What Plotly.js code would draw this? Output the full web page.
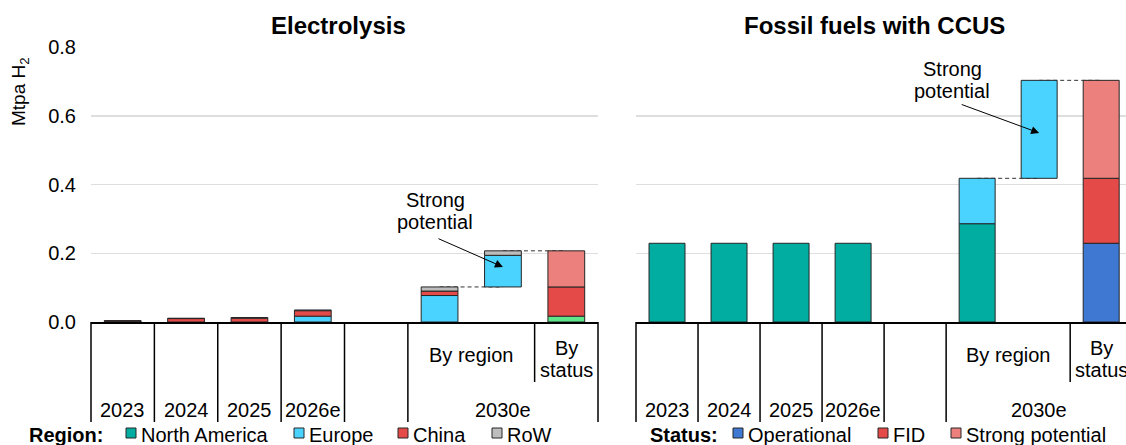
<!DOCTYPE html>
<html><head><meta charset="utf-8">
<script src="https://cdn.plot.ly/plotly-3.0.1.min.js"></script>
<style>html,body{margin:0;padding:0;background:#fff}#chart{width:1126px;height:445px}</style>
</head><body><div id="chart"></div>
<script>
// ---------------- DATA (Mtpa H2) ----------------
const slots = ['2023','2024','2025','2026e','gap','2030e by region','2030e strong potential','2030e by status'];
const yearLabels = ['2023','2024','2025','2026e','','2030e'];
const regionNames = ['North America','Europe','China','RoW'];
const statusNames = ['Operational','FID','Strong potential'];
const potentialRegions = ['Europe','RoW'];

// Electrolysis, slots 2023..2030e by region
const elecNorthAmerica = [0, 0, 0, 0, 0, 0];
const elecEurope       = [0, 0, 0, 0.017, 0, 0.077];
const elecChina        = [0.003, 0.010, 0.011, 0.016, 0, 0.013];
const elecRoW          = [0.001, 0.001, 0.002, 0.002, 0, 0.012];
const elecPotential    = [0.092, 0.013];        // Europe, RoW
const elecStatus       = [0.017, 0.085, 0.105]; // Operational, FID, Strong potential

// Fossil fuels with CCUS
const ccusNorthAmerica = [0.229, 0.229, 0.229, 0.229, 0, 0.286];
const ccusEurope       = [0, 0, 0, 0, 0, 0.132];
const ccusChina        = [0, 0, 0, 0, 0, 0];
const ccusRoW          = [0, 0, 0, 0, 0, 0];
const ccusPotential    = [0.285, 0];
const ccusStatus       = [0.229, 0.189, 0.285];

// ---------------- STYLE ----------------
const regionColors = ['#00ADA0', '#4BD3FF', '#E34A48', '#BDBDBD'];
const statusColors = ['#3E78D2', '#E34A48', '#EC807C'];
const elecStatusColors = ['#5EE68B', '#E34A48', '#EC807C'];
const FONT = 'Arial, "Liberation Sans", sans-serif';
const W = 1126, H = 445;
const M = {l: 91, r: 0, t: 47, b: 123};
const plotW = W - M.l - M.r, plotH = H - M.t - M.b;
const pxX = v => (v - M.l) / plotW;
const pxY = v => (H - M.b - v) / plotH;

const panels = [
  {xa: 'x',  ya: 'y',  d: [0, pxX(598)], r: [-0.5, 7.5], region: [elecNorthAmerica, elecEurope, elecChina, elecRoW], potential: elecPotential, status: elecStatus, sCols: elecStatusColors},
  {xa: 'x2', ya: 'y2', d: [pxX(636), 1], r: [-0.5, 7.4], region: [ccusNorthAmerica, ccusEurope, ccusChina, ccusRoW], potential: ccusPotential, status: ccusStatus, sCols: statusColors}
];
const slotX = (p, i) => p.d[0] + (i - p.r[0]) / (p.r[1] - p.r[0]) * (p.d[1] - p.d[0]);

function bar(xs, ys, bs, color, name, xa, ya) {
  return {type: 'bar', x: xs, y: ys, base: bs, width: 0.58, name: name, xaxis: xa, yaxis: ya,
    marker: {color: color, line: {color: '#262626', width: 1}}, showlegend: false, hoverinfo: 'skip'};
}

const traces = [], shapes = [], annotations = [];
const iRegion = slots.indexOf('2030e by region');
const iPot = slots.indexOf('2030e strong potential');
const iStat = slots.indexOf('2030e by status');

panels.forEach(p => {
  const cum = slots.map(() => 0);
  regionNames.forEach((name, r) => {
    const xs = [], ys = [], bs = [];
    p.region[r].forEach((v, i) => { if (v > 0) { xs.push(i); ys.push(v); bs.push(cum[i]); cum[i] += v; } });
    if (xs.length) traces.push(bar(xs, ys, bs, regionColors[r], name, p.xa, p.ya));
  });
  cum[iPot] = cum[iRegion];
  potentialRegions.forEach((name, k) => {
    const v = p.potential[k];
    if (v > 0) { traces.push(bar([iPot], [v], [cum[iPot]], regionColors[regionNames.indexOf(name)], name, p.xa, p.ya)); cum[iPot] += v; }
  });
  statusNames.forEach((name, k) => {
    const v = p.status[k];
    if (v > 0) { traces.push(bar([iStat], [v], [cum[iStat]], p.sCols[k], name, p.xa, p.ya)); cum[iStat] += v; }
  });
  const dash = {color: '#333', width: 1, dash: '4px,3px'};
  shapes.push({type: 'line', xref: p.xa, yref: p.ya, x0: iRegion, x1: iPot, y0: cum[iRegion], y1: cum[iRegion], line: dash, layer: 'below'});
  shapes.push({type: 'line', xref: p.xa, yref: p.ya, x0: iPot, x1: iStat, y0: cum[iPot], y1: cum[iPot], line: dash, layer: 'below'});

  // category separators
  const sep = {color: '#000', width: 1.5};
  [-0.5, 0.5, 1.5, 2.5, 3.5, 4.5, 7.5].forEach(b => {
    const xx = slotX(p, b);
    if (xx <= 1.0001) shapes.push({type: 'line', xref: 'paper', yref: 'paper', x0: xx, x1: xx, y0: 0, y1: pxY(422), line: sep});
  });
  const sx = slotX(p, 6.5);
  shapes.push({type: 'line', xref: 'paper', yref: 'paper', x0: sx, x1: sx, y0: 0, y1: pxY(382), line: sep});

  // category labels
  const lab = (text, x, y) => annotations.push({text: text, xref: 'paper', yref: 'paper', x: x, y: pxY(y), showarrow: false, xanchor: 'center', yanchor: 'middle', font: {family: FONT, size: 20, color: '#000'}});
  yearLabels.forEach((t, i) => { if (t) lab(t, i < 5 ? slotX(p, i) : slotX(p, 6), 410); });
  lab('By region', slotX(p, 5.5), 355);
  lab('By', slotX(p, iStat), 348);
  lab('status', slotX(p, iStat), 370);
});

// Titles
const titleAnn = (text, x) => annotations.push({text: '<b>' + text + '</b>', xref: 'paper', yref: 'paper', x: pxX(x), y: pxY(26), showarrow: false, xanchor: 'center', yanchor: 'middle', font: {family: FONT, size: 24, color: '#000'}});
titleAnn('Electrolysis', 338);
titleAnn('Fossil fuels with CCUS', 874);

// Y axis title
annotations.push({text: 'Mtpa H<sub>2</sub>', xref: 'paper', yref: 'paper', x: pxX(20), y: pxY(92), textangle: -90, showarrow: false, xanchor: 'center', yanchor: 'middle', font: {family: FONT, size: 19, color: '#000'}});

// "Strong potential" callouts
const callout = (xa, ya, tx, ty1, ty2, hx, hy, ax, ay) => {
  annotations.push({text: 'Strong', xref: 'paper', yref: 'paper', x: pxX(tx), y: pxY(ty1), showarrow: false, xanchor: 'center', yanchor: 'middle', font: {family: FONT, size: 20, color: '#000'}});
  annotations.push({text: 'potential', xref: 'paper', yref: 'paper', x: pxX(tx), y: pxY(ty2), showarrow: false, xanchor: 'center', yanchor: 'middle', font: {family: FONT, size: 20, color: '#000'}});
  annotations.push({text: '', xref: xa, yref: ya, x: hx, y: hy, showarrow: true, ax: ax, ay: ay, arrowhead: 2, arrowsize: 1.6, arrowwidth: 1, arrowcolor: '#000', standoff: 0});
};
callout('x', 'y', 435, 200, 222, iPot, 0.16, -66, -29);
callout('x2', 'y2', 952, 69, 91, iPot, 0.55, -79, -29);

// Manual legends
const legendRow = (title, tx, items) => {
  annotations.push({text: '<b>' + title + '</b>', xref: 'paper', yref: 'paper', x: pxX(tx), y: pxY(435), showarrow: false, xanchor: 'left', yanchor: 'middle', font: {family: FONT, size: 20, color: '#000'}});
  items.forEach(it => {
    shapes.push({type: 'rect', xref: 'paper', yref: 'paper', x0: pxX(it.sq), x1: pxX(it.sq + 10), y0: pxY(428), y1: pxY(438), fillcolor: it.color, line: {color: '#262626', width: 1}});
    annotations.push({text: it.name, xref: 'paper', yref: 'paper', x: pxX(it.sq + 13), y: pxY(435), showarrow: false, xanchor: 'left', yanchor: 'middle', font: {family: FONT, size: 20, color: '#000'}});
  });
};
legendRow('Region:', 27, [
  {sq: 126, name: regionNames[0], color: regionColors[0]},
  {sq: 294, name: regionNames[1], color: regionColors[1]},
  {sq: 398, name: regionNames[2], color: regionColors[2]},
  {sq: 492, name: regionNames[3], color: regionColors[3]}
]);
legendRow('Status:', 648, [
  {sq: 733, name: statusNames[0], color: statusColors[0]},
  {sq: 878, name: statusNames[1], color: statusColors[1]},
  {sq: 951, name: statusNames[2], color: statusColors[2]}
]);

const xCommon = {showticklabels: false, showgrid: false, zeroline: false, showline: true, linecolor: '#000', linewidth: 1.5, ticks: '', fixedrange: true};
const yCommon = {range: [0, 0.8], tickvals: [0, 0.2, 0.4, 0.6, 0.8], tickformat: '.1f', showgrid: true, gridcolor: '#dedede', gridwidth: 1.5, zeroline: false, showline: false, ticks: '', fixedrange: true};

const layout = {
  width: W, height: H, margin: M, paper_bgcolor: '#fff', plot_bgcolor: '#fff',
  barmode: 'overlay', showlegend: false,
  font: {family: FONT, size: 20, color: '#000'},
  xaxis: Object.assign({}, xCommon, {domain: panels[0].d, range: panels[0].r, anchor: 'y'}),
  yaxis: Object.assign({}, yCommon, {domain: [0, 1], anchor: 'x', tickfont: {family: FONT, size: 20, color: '#000'}, ticklabelstandoff: 14}),
  xaxis2: Object.assign({}, xCommon, {domain: panels[1].d, range: panels[1].r, anchor: 'y2'}),
  yaxis2: Object.assign({}, yCommon, {domain: [0, 1], anchor: 'x2', showticklabels: false}),
  shapes: shapes, annotations: annotations
};
Plotly.newPlot('chart', traces, layout, {displayModeBar: false, staticPlot: true});
</script></body></html>
